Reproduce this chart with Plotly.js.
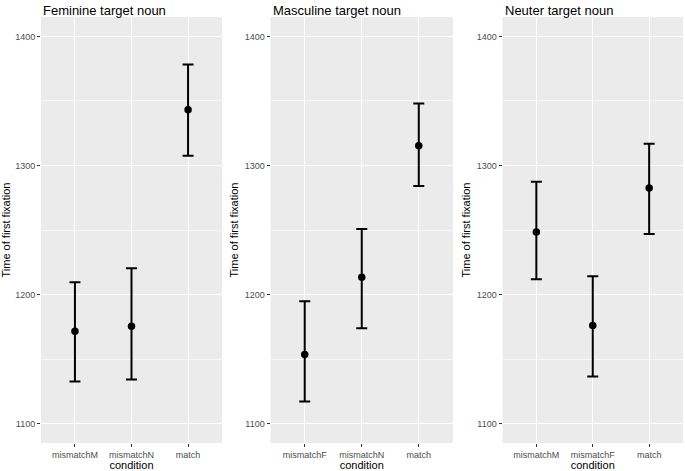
<!DOCTYPE html>
<html>
<head>
<meta charset="utf-8">
<script src="https://cdn.plot.ly/plotly-3.0.1.min.js"></script>
<style>html,body{margin:0;padding:0;background:#fff;}#chart{width:685px;height:471px;}</style>
</head>
<body>
<div id="chart"></div>
<script>
// Panel titles
const panelTitles = ["Feminine target noun", "Masculine target noun", "Neuter target noun"];
// Categories per panel
const catsFem = ["mismatchM", "mismatchN", "match"];
const catsMasc = ["mismatchF", "mismatchN", "match"];
const catsNeut = ["mismatchM", "mismatchF", "match"];
// Means
const meanFem = [1171.5, 1175.4, 1343.2];
const meanMasc = [1153.6, 1213.4, 1315.2];
const meanNeut = [1248.4, 1176.1, 1282.6];
// Upper CI limits
const upperFem = [1209.6, 1220.4, 1378.2];
const upperMasc = [1194.8, 1250.7, 1347.9];
const upperNeut = [1287.3, 1214.2, 1316.8];
// Lower CI limits
const lowerFem = [1132.6, 1134.2, 1307.5];
const lowerMasc = [1117.1, 1173.8, 1284.1];
const lowerNeut = [1211.9, 1136.5, 1246.9];

const yTicks = [1100, 1200, 1300, 1400];

const FONT = "Liberation Sans, Arial, sans-serif";
const W = 685, H = 471;

const panels = [
  {cats: catsFem, mean: meanFem, up: upperFem, lo: lowerFem, x0: 41, x1: 222},
  {cats: catsMasc, mean: meanMasc, up: upperMasc, lo: lowerMasc, x0: 270.5, x1: 453},
  {cats: catsNeut, mean: meanNeut, up: upperNeut, lo: lowerNeut, x0: 502.5, x1: 683}
];
const yTop = 17, yBot = 443;

const traces = [];
const layout = {
  width: W, height: H,
  margin: {l: 0, r: 0, t: 0, b: 0},
  paper_bgcolor: "#ffffff",
  plot_bgcolor: "#EBEBEB",
  showlegend: false,
  font: {family: FONT, color: "#000000"},
  annotations: []
};

panels.forEach((p, i) => {
  const sfx = i === 0 ? "" : String(i + 1);
  traces.push({
    type: "scatter", mode: "markers",
    x: p.cats, y: p.mean,
    xaxis: "x" + sfx, yaxis: "y" + sfx,
    marker: {color: "#000000", size: 7.5},
    error_y: {
      type: "data", symmetric: false,
      array: p.up.map((u, k) => u - p.mean[k]),
      arrayminus: p.lo.map((l, k) => p.mean[k] - l),
      color: "#000000", thickness: 2, width: 5.5
    },
    hoverinfo: "skip"
  });
  layout["xaxis" + sfx] = {
    domain: [p.x0 / W, p.x1 / W],
    anchor: "y" + sfx,
    type: "category",
    categoryorder: "array", categoryarray: p.cats,
    range: [-0.6, 2.6],
    showgrid: true, gridcolor: "#ffffff", gridwidth: 1.1,
    zeroline: false, showline: false,
    ticks: "outside", ticklen: 3, tickwidth: 1, tickcolor: "#333333",
    tickfont: {family: FONT, size: 9, color: "#4D4D4D"},
    title: {text: "condition", font: {family: FONT, size: 11, color: "#000000"}, standoff: 1},
    fixedrange: true
  };
  layout["yaxis" + sfx] = {
    domain: [(H - yBot) / H, (H - yTop) / H],
    anchor: "x" + sfx,
    range: [1085, 1415],
    tickmode: "array", tickvals: yTicks, ticktext: yTicks.map(String),
    showgrid: true, gridcolor: "#ffffff", gridwidth: 1.1,
    minor: {dtick: 50, tick0: 1050, showgrid: true, gridcolor: "#ffffff", gridwidth: 0.6, ticks: ""},
    zeroline: false, showline: false,
    ticks: "outside", ticklen: 3, tickwidth: 1, tickcolor: "#333333",
    tickfont: {family: FONT, size: 9, color: "#4D4D4D"},
    title: {text: "Time of first fixation", font: {family: FONT, size: 11, color: "#000000"}, standoff: 3},
    fixedrange: true
  };
  layout.annotations.push({
    text: panelTitles[i],
    xref: "paper", yref: "paper",
    x: p.x0 / W, y: 1 - 1 / H,
    xanchor: "left", yanchor: "top",
    showarrow: false,
    font: {family: FONT, size: 13, color: "#000000"}
  });
});

Plotly.newPlot("chart", traces, layout, {displayModeBar: false, staticPlot: true});
</script>
</body>
</html>
